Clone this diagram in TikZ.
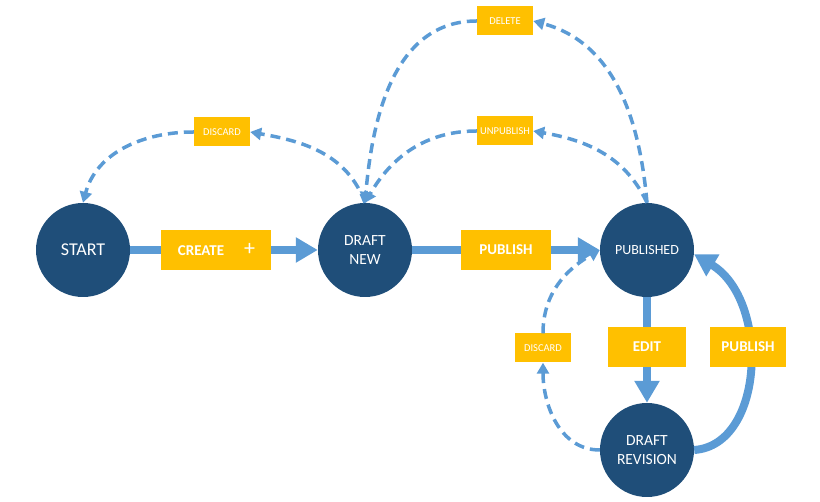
\documentclass[tikz,border=0pt]{standalone}
\usepackage{fontspec}
\setmainfont{Carlito}
\usepackage{xcolor}
\usetikzlibrary{arrows.meta,positioning}
\definecolor{navy}{HTML}{1F4E79}
\definecolor{gold}{HTML}{FFC000}
\definecolor{flow}{HTML}{5B9BD5}

\begin{document}
\begin{tikzpicture}[x=1pt, y=1pt,
  st/.style={circle, fill=navy, minimum size=94pt, inner sep=0pt, text=white, align=center, font=\fontsize{15.5}{19}\selectfont},
  lbl/.style={fill=gold, text=white, minimum height=40pt, inner sep=0pt, font=\fontsize{15}{18}\selectfont\bfseries},
  tag/.style={fill=gold, text=white, minimum width=56pt, minimum height=29pt, inner sep=0pt, font=\fontsize{10.5}{12}\selectfont},
  arr/.style={-{Triangle[length=22pt,width=24pt]}, flow, line width=8pt},
  darr/.style={-{Triangle[length=11pt,width=12pt]}, flow, line width=3.5pt, dash pattern=on 10pt off 6pt}
]
\useasboundingbox (0,0) rectangle (820,502);

% states
\node[st, font=\fontsize{18}{21}\selectfont] (start) at (83,252) {START};
\node[st] (new) at (365,252) {DRAFT\\NEW};
\node[st, font=\fontsize{14}{17}\selectfont] (pub) at (647,252) {PUBLISHED};
\node[st] (rev) at (647,52) {DRAFT\\REVISION};

% small actions
\node[tag] (discA) at (222,370) {DISCARD};
\node[tag] (unpub) at (505,371) {UNPUBLISH};
\node[tag] (del) at (505,481) {DELETE};
\node[tag] (discB) at (543,154) {DISCARD};

% main flow
\draw[arr] (start) -- node[lbl, minimum width=110pt, pos=0.46] (create) {CREATE\hspace{20pt}{\mdseries\fontsize{22}{22}\selectfont+}} (new);
\draw[arr] (new) -- node[lbl, minimum width=90pt] (pubA) {PUBLISH} (pub);
\draw[arr] (pub) -- node[lbl, minimum width=78pt, pos=0.47] (edit) {EDIT} (rev);
\draw[arr] (rev.east) .. controls (765,57) and (770,202) .. node[lbl, minimum width=76pt, pos=0.58] (pubB) {PUBLISH} (pub.-5);

% dashed flow
\draw[darr] (new.north) to[out=110, in=-10] (discA.east);
\draw[darr] (discA.west) to[out=180, in=75] (start.north);
\draw[darr] (pub.north) to[out=115, in=-10] (unpub.east);
\draw[darr] (unpub.west) to[out=180, in=60] (new.north);
\draw[darr] (pub.north) to[out=95, in=-15] (del.east);
\draw[darr] (del.west) to[out=180, in=85] (new.north);
\draw[darr] (rev.west) to[out=180, in=-90] (discB.south);
\draw[darr] (discB.north) to[out=90, in=210] (pub.west);
\end{tikzpicture}
\end{document}
